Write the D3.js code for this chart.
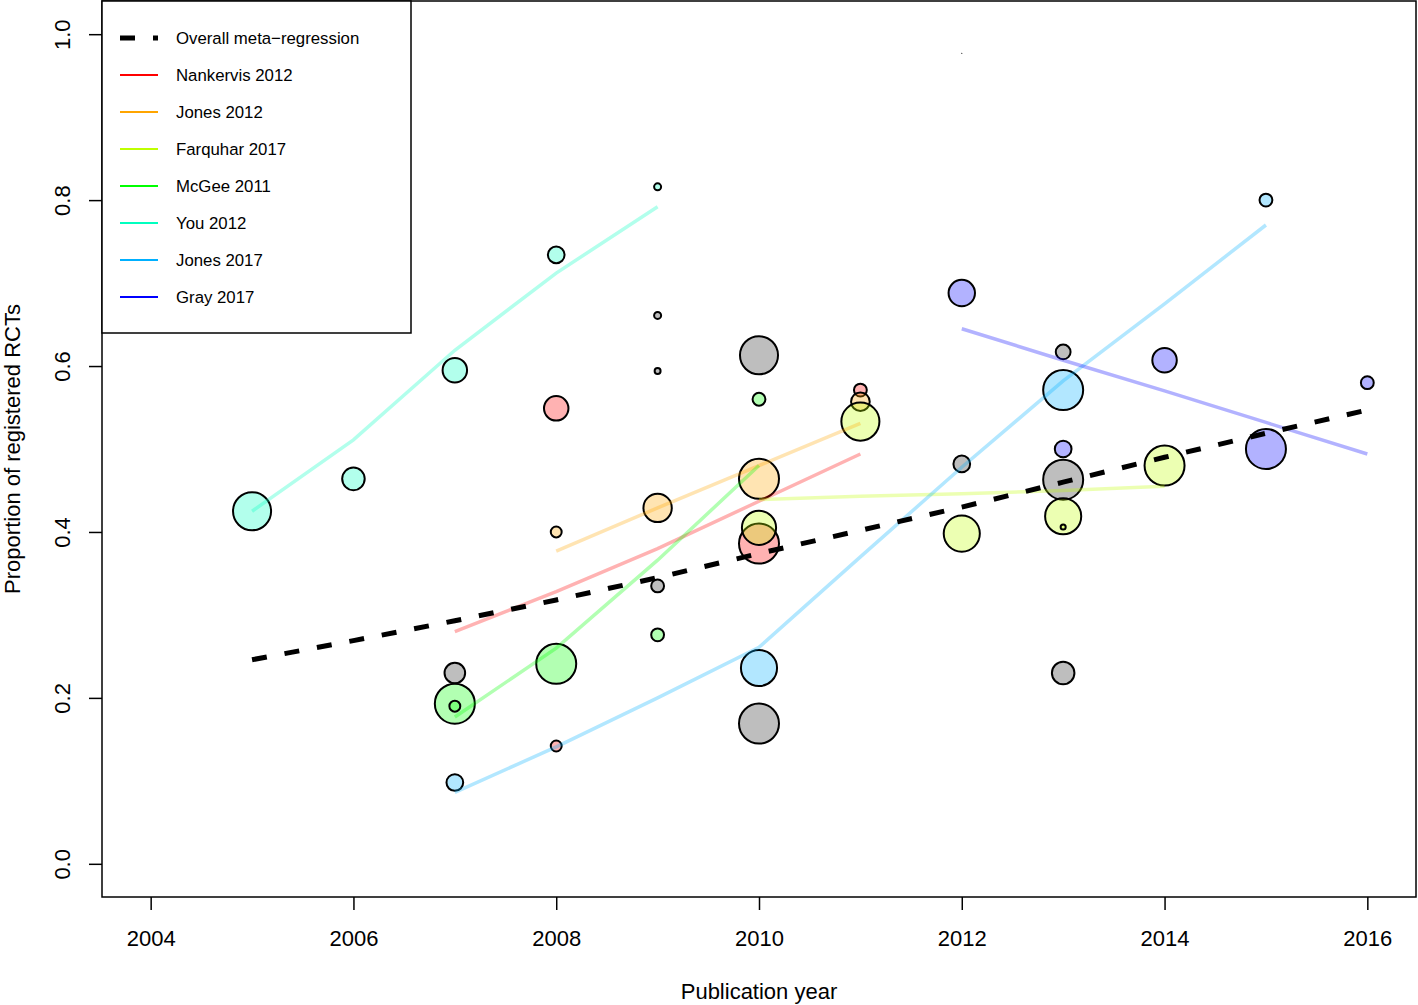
<!DOCTYPE html>
<html>
<head>
<meta charset="utf-8">
<script src="https://cdn.jsdelivr.net/npm/d3@7"></script>
<style>
  body { margin: 0; background: #fff; }
  svg { display: block; font-family: "Liberation Sans", Arial, Helvetica, sans-serif; }
</style>
</head>
<body>
<div id="chart"></div>
<script>
// tick labels
const xTicks = [2004, 2006, 2008, 2010, 2012, 2014, 2016];
const yTicks = [0.0, 0.2, 0.4, 0.6, 0.8, 1.0];

// reviews (legend order)
const reviews = ["Nankervis 2012", "Jones 2012", "Farquhar 2017", "McGee 2011", "You 2012", "Jones 2017", "Gray 2017"];
const reviewColors = ["#ff0000", "#ffa500", "#bfff00", "#00ff00", "#00ffbf", "#00b0ff", "#0000ff"];

// studies per review: [year, proportion registered, weight]
const nankervisPts = [[2008, 0.549, 144], [2008, 0.142, 25], [2010, 0.386, 400], [2011, 0.571, 36]];
const jones2012Pts = [[2008, 0.400, 25], [2009, 0.429, 196], [2010, 0.464, 400], [2011, 0.557, 81]];
const farquharPts = [[2010, 0.405, 289], [2011, 0.533, 361], [2012, 0.398, 324], [2013, 0.419, 324], [2013, 0.406, 4], [2014, 0.480, 400]];
const mcgeePts = [[2007, 0.193, 400], [2007, 0.190, 25], [2008, 0.241, 400], [2009, 0.276, 36], [2010, 0.560, 36]];
const youPts = [[2005, 0.425, 361], [2006, 0.464, 121], [2007, 0.595, 144], [2008, 0.734, 64], [2009, 0.816, 9]];
const jones2017Pts = [[2007, 0.098, 64], [2010, 0.236, 324], [2013, 0.571, 400], [2015, 0.800, 36]];
const grayPts = [[2012, 0.688, 169], [2013, 0.500, 64], [2014, 0.607, 144], [2015, 0.500, 400], [2016, 0.580, 36]];

// studies not in a named review
const otherPts = [[2007, 0.230, 100], [2009, 0.335, 36], [2009, 0.661, 9], [2009, 0.594, 6], [2010, 0.613, 361],
  [2010, 0.169, 400], [2012, 0.482, 64], [2013, 0.617, 49], [2013, 0.463, 400], [2013, 0.230, 121], [2012, 0.977, 0]];

// fitted lines per review: [year, fitted proportion]
const nankervisFit = [[2007, 0.280], [2008, 0.328], [2009, 0.380], [2010, 0.437], [2011, 0.494]];
const jones2012Fit = [[2008, 0.377], [2009, 0.429], [2010, 0.480], [2011, 0.531]];
const farquharFit = [[2010, 0.439], [2011, 0.443], [2012, 0.446], [2013, 0.450], [2014, 0.455]];
const mcgeeFit = [[2007, 0.177], [2008, 0.260], [2009, 0.366], [2010, 0.480]];
const youFit = [[2005, 0.425], [2006, 0.511], [2007, 0.619], [2008, 0.712], [2009, 0.792]];
const jones2017Fit = [[2007, 0.086], [2008, 0.141], [2009, 0.200], [2010, 0.261], [2011, 0.370], [2012, 0.478], [2013, 0.582], [2014, 0.675], [2015, 0.770]];
const grayFit = [[2012, 0.645], [2013, 0.607], [2014, 0.570], [2015, 0.532], [2016, 0.494]];

// overall meta-regression
const overallFit = [[2005, 0.246], [2006, 0.269], [2007, 0.293], [2008, 0.318], [2009, 0.345], [2010, 0.374],
  [2011, 0.402], [2012, 0.430], [2013, 0.460], [2014, 0.490], [2015, 0.519], [2016, 0.547]];

const reviewPts = [nankervisPts, jones2012Pts, farquharPts, mcgeePts, youPts, jones2017Pts, grayPts];
const reviewFits = [nankervisFit, jones2012Fit, farquharFit, mcgeeFit, youFit, jones2017Fit, grayFit];

const width = 1418, height = 1005;
const box = { left: 102, top: 1, right: 1416, bottom: 897 };
const axisFont = "22px";

const svg = d3.select("#chart").append("svg").attr("width", width).attr("height", height);

const x = d3.scaleLinear().domain([2003.52, 2016.48]).range([box.left, box.right]);
const y = d3.scaleLinear().domain([-0.04, 1.04]).range([box.bottom, box.top]);
const r = d3.scaleSqrt().domain([0, 400]).range([0.6, 20]);

// circles: other studies first, then each review
const circles = svg.append("g");
circles.selectAll(".other")
  .data(otherPts)
  .join("circle")
  .attr("class", "other")
  .attr("cx", d => x(d[0])).attr("cy", d => y(d[1]))
  .attr("r", d => r(d[2]))
  .attr("fill", d => d[2] === 0 ? "#000" : "#bebebe")
  .attr("stroke", "#000").attr("stroke-width", d => d[2] === 0 ? 0 : 2);

reviewPts.forEach((pts, i) => {
  circles.selectAll(".rv" + i)
    .data(pts)
    .join("circle")
    .attr("class", "rv" + i)
    .attr("cx", d => x(d[0])).attr("cy", d => y(d[1]))
    .attr("r", d => r(d[2]))
    .attr("fill", reviewColors[i]).attr("fill-opacity", 0.3)
    .attr("stroke", "#000").attr("stroke-width", 2);
});

const line = d3.line().x(d => x(d[0])).y(d => y(d[1]));

svg.append("g").selectAll("path")
  .data(reviewFits)
  .join("path")
  .attr("d", d => line(d))
  .attr("fill", "none")
  .attr("stroke", (d, i) => reviewColors[i])
  .attr("stroke-opacity", 0.3)
  .attr("stroke-width", 3.5);

svg.append("path")
  .attr("d", line(overallFit))
  .attr("fill", "none")
  .attr("stroke", "#000")
  .attr("stroke-width", 5)
  .attr("stroke-dasharray", "15,18");

// box
svg.append("rect")
  .attr("x", box.left).attr("y", box.top)
  .attr("width", box.right - box.left).attr("height", box.bottom - box.top)
  .attr("fill", "none").attr("stroke", "#000").attr("stroke-width", 1.5);

// x axis
const xAxisG = svg.append("g").attr("transform", `translate(0,${box.bottom})`);
xAxisG.call(d3.axisBottom(x).tickValues(xTicks).tickFormat(d3.format("d")).tickSize(13).tickSizeOuter(0));
xAxisG.select(".domain").remove();
xAxisG.selectAll(".tick line").attr("stroke", "#000").attr("stroke-width", 1.5);
xAxisG.selectAll(".tick text")
  .attr("y", 49).attr("dy", null)
  .style("font-size", axisFont).attr("fill", "#000")
  .style("font-family", "'Liberation Sans', Arial, sans-serif");

// y axis
const yAxisG = svg.append("g").attr("transform", `translate(${box.left},0)`);
yAxisG.call(d3.axisLeft(y).tickValues(yTicks).tickFormat(d3.format(".1f")).tickSize(13).tickSizeOuter(0));
yAxisG.select(".domain").remove();
yAxisG.selectAll(".tick line").attr("stroke", "#000").attr("stroke-width", 1.5);
yAxisG.selectAll(".tick text")
  .attr("x", null).attr("dy", null)
  .attr("transform", "translate(-32,0) rotate(-90)")
  .attr("text-anchor", "middle")
  .style("font-size", axisFont).attr("fill", "#000")
  .style("font-family", "'Liberation Sans', Arial, sans-serif");

// axis titles
svg.append("text")
  .attr("x", (box.left + box.right) / 2).attr("y", 999)
  .attr("text-anchor", "middle")
  .style("font-size", axisFont)
  .text("Publication year");

svg.append("text")
  .attr("transform", `translate(20,${(box.top + box.bottom) / 2}) rotate(-90)`)
  .attr("text-anchor", "middle")
  .style("font-size", axisFont)
  .text("Proportion of registered RCTs");

// legend
const legend = svg.append("g");
legend.append("rect")
  .attr("x", box.left).attr("y", box.top)
  .attr("width", 309).attr("height", 332)
  .attr("fill", "#fff").attr("stroke", "#000").attr("stroke-width", 1.5);

const legendItems = [{ name: "Overall meta\u2212regression", color: "#000", dashed: true }]
  .concat(reviews.map((name, i) => ({ name, color: reviewColors[i], dashed: false })));

const rows = legend.selectAll(".row")
  .data(legendItems)
  .join("g")
  .attr("class", "row")
  .attr("transform", (d, i) => `translate(0,${38 + i * 37})`);

rows.append("line")
  .attr("x1", 120).attr("x2", 158)
  .attr("stroke", d => d.color)
  .attr("stroke-width", d => d.dashed ? 5 : 1.8)
  .attr("stroke-dasharray", d => d.dashed ? "15,18" : null);

rows.append("text")
  .attr("x", 176).attr("y", 6)
  .style("font-size", "16.8px")
  .text(d => d.name);
</script>
</body>
</html>
